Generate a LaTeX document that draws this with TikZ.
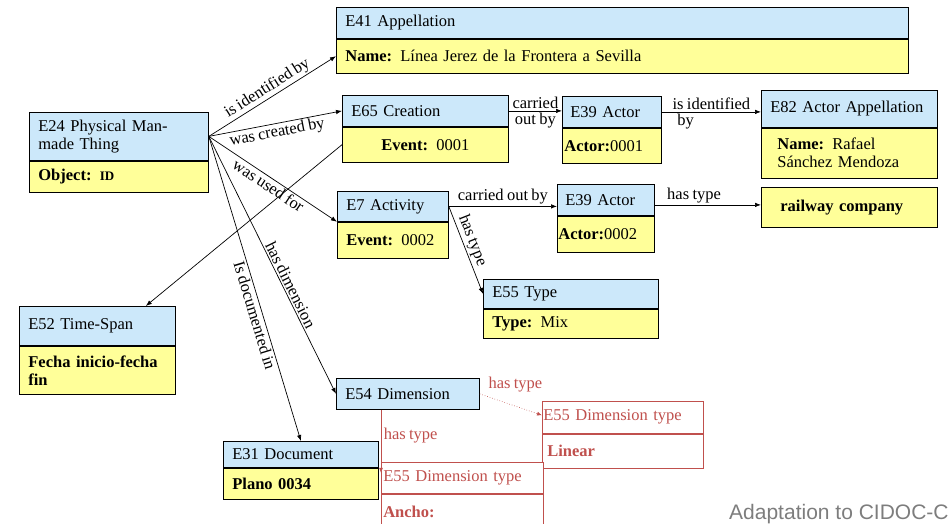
\documentclass[tikz,border=0pt]{standalone}
\usepackage{fontspec}
\setmainfont[WordSpace=0.8]{Liberation Serif}
\setsansfont{Liberation Sans}
\usetikzlibrary{arrows.meta}

\definecolor{headblue}{RGB}{204,232,250}
\definecolor{bodyyellow}{RGB}{255,255,153}
\definecolor{dimred}{RGB}{192,80,77}
\definecolor{capgray}{RGB}{125,125,125}

\begin{document}
\begin{tikzpicture}[x=1pt, y=-1pt, font=\fontsize{16.5}{18}\selectfont,
        hdr/.style={draw, line width=0.8pt, fill=headblue, anchor=north west, inner xsep=9pt, inner ysep=2pt, align=left},
        bdy/.style={draw, line width=0.8pt, fill=bodyyellow, anchor=north west, inner xsep=9pt, inner ysep=2pt, align=left},
        typbox/.style={draw=dimred, line width=0.6pt, fill=white, text=dimred, anchor=north west, inner xsep=1pt, inner ysep=2pt, align=left},
        rel/.style={-{Latex[length=6pt,width=4.5pt]}, line width=0.7pt},
        redrel/.style={-{Latex[length=5pt,width=4pt]}, draw=dimred, line width=0.6pt},
        lbl/.style={inner sep=1.5pt}]
        \useasboundingbox (0,0) rectangle (951,524);
        \clip (0,0) rectangle (951,524);

        % entities
        \node[hdr, text width=554pt, minimum height=31pt] (e41) at (336,7) {E41 Appellation};
        \node[bdy, text width=554pt, minimum height=34pt] (e41b) at (e41.south west) {\textbf{Name:} Línea Jerez de la Frontera a Sevilla};

        \node[hdr, text width=161pt, minimum height=48pt] (e24) at (29,112) {E24 Physical Man-\\made Thing};
        \node[bdy, text width=161pt, minimum height=31pt] (e24b) at (e24.south west) {\textbf{Object: {\fontsize{13}{14}\selectfont ID}}};

        \node[hdr, text width=148pt, minimum height=31pt] (e65) at (342,95) {E65 Creation};
        \node[bdy, text width=148pt, minimum height=35pt, align=center] (e65b) at (e65.south west) {\textbf{Event:} 0001};

        \node[hdr, inner xsep=8pt, text width=83pt, minimum height=31pt] (e39a) at (562,96) {E39 Actor};
        \node[bdy, inner xsep=2pt, text width=95pt, minimum height=35pt] (e39ab) at (e39a.south west) {\textbf{Actor:}0001};

        \node[hdr, text width=158pt, minimum height=37pt] (e82) at (761,90) {E82 Actor Appellation};
        \node[bdy, inner xsep=16pt, text width=144pt, minimum height=50pt] (e82b) at (e82.south west) {\textbf{Name:} Rafael\\Sánchez Mendoza};

        \node[hdr, text width=93pt, minimum height=30pt] (e7) at (337,191) {E7 Activity};
        \node[bdy, text width=93pt, minimum height=36pt] (e7b) at (e7.south west) {\textbf{Event:} 0002};

        \node[hdr, inner xsep=8pt, text width=81pt, minimum height=31pt] (e39b) at (557,184) {E39 Actor};
        \node[bdy, inner xsep=1pt, text width=95pt, minimum height=36pt] (e39bb) at (e39b.south west) {\textbf{Actor:}0002};

        \node[bdy, inner xsep=19pt, text width=138pt, minimum height=40pt] (rail) at (761,187) {\textbf{railway company}};

        \node[hdr, text width=157pt, minimum height=29pt] (e55) at (483,279) {E55 Type};
        \node[bdy, text width=157pt, minimum height=29pt] (e55b) at (e55.south west) {\textbf{Type:} Mix};

        \node[hdr, text width=138pt, minimum height=39pt] (e52) at (19,306) {E52 Time-Span};
        \node[bdy, text width=138pt, minimum height=48pt] (e52b) at (e52.south west) {\textbf{Fecha inicio-fecha\\fin}};

        \node[hdr, text width=125pt, minimum height=31pt] (e54) at (336,378) {E54 Dimension};

        \node[hdr, text width=137pt, minimum height=26pt] (e31) at (223,441) {E31 Document};
        \node[bdy, text width=137pt, minimum height=31pt] (e31b) at (e31.south west) {\textbf{Plano 0034}};

        % dimension types
        \node[typbox, text width=159pt, minimum height=32pt] (e55l) at (542,401) {E55 Dimension type};
        \node[typbox, inner xsep=5pt, text width=151pt, minimum height=34pt] (e55lb) at (e55l.south west) {\textbf{Linear}};
        \node[typbox, inner xsep=2pt, text width=158pt, minimum height=31pt] (e55a) at (381,462) {E55 Dimension type};
        \node[typbox, inner xsep=2pt, text width=158pt, minimum height=36pt] (e55ab) at (e55a.south west) {\textbf{Ancho:}};

        % relations
        \draw[rel] (e24.east) -- node[lbl, sloped, above] {is identified by} (e41b.west);
        \draw[rel] (e24.east) -- node[lbl, sloped, below] {was created by} (e65.west);
        \draw[rel] (e24.east) -- node[lbl, sloped, below] {was used for} (e7.south west);
        \draw[rel] (e24.east) -- node[lbl, sloped, above, pos=0.59] {has dimension} (e54.west);
        \draw[rel] (e24.east) -- node[lbl, sloped, below, pos=0.58] {Is documented in} (e31.north);
        \draw[rel] (e65b.west) -- ([xshift=-30pt]e52.north east);

        \draw[rel] (e65.east) -- node[lbl, above] {carried} node[lbl, below] {out by} (e65.east -| e39a.west);
        \draw[rel] (e39a.east) -- node[lbl, above] {is identified} node[lbl, below, pos=0.24] {by} (e39a.east -| e82.west);
        \draw[rel] (e7.east) -- node[lbl, above] {carried out by} (e7.east -| e39b.west);
        \draw[rel] ([yshift=-5pt]e39b.east) -- node[lbl, above, pos=0.37] {has type} ([yshift=-5pt]e39b.east -| rail.west);
        \draw[rel] (e7.east) -- node[lbl, sloped, above, pos=0.43] {has type} (e55.west);

        \draw[redrel, dotted] (e54.east) -- node[lbl, text=dimred, anchor=south west, pos=0, xshift=7pt] {has type} ([yshift=2pt]e55l.west);
        \draw[redrel] ([xshift=45pt]e54.south west) -- node[lbl, text=dimred, anchor=west, pos=0.41, xshift=1pt] {has type} ([yshift=5pt]e55a.west);

        \node[font=\sffamily\fontsize{21}{23}\selectfont, text=capgray, anchor=base west, inner sep=0pt] (cap) at (729,519) {Adaptation to CIDOC-C};
\end{tikzpicture}
\end{document}
